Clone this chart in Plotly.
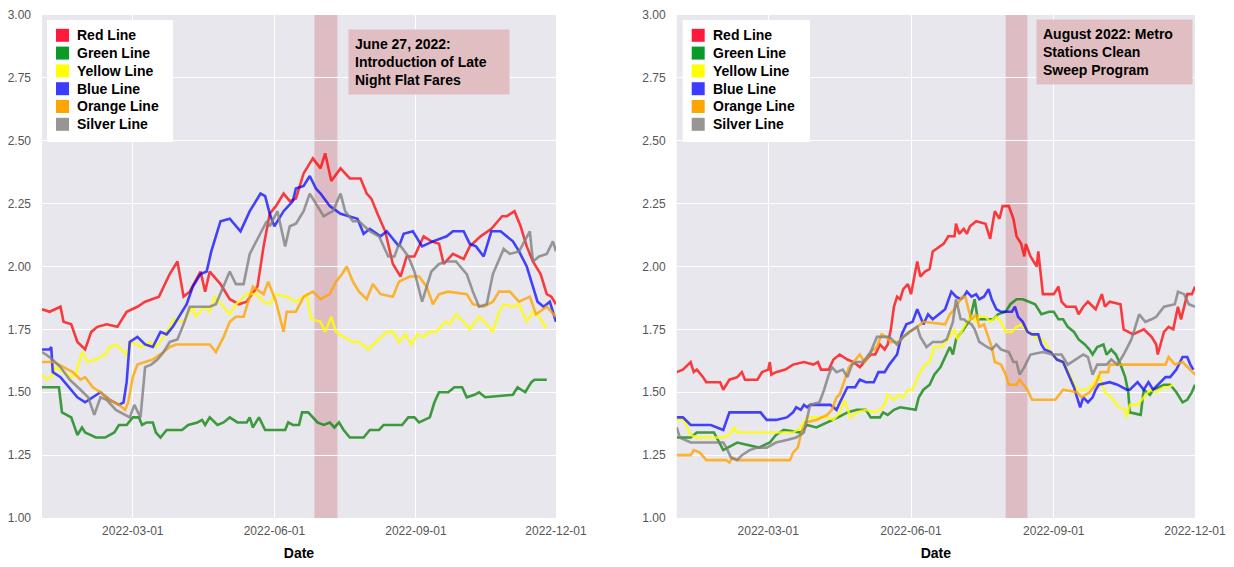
import pandas as pd
import plotly.graph_objects as go

BASE = pd.Timestamp("2022-01-01")

# ---------------- Left panel (day offset from 2022-01-01, value) ----------------
L_red_d = [0,5,12,14,19,23,28,32,36,42,49,55,62,67,76,83,88,92,96,103,106,109,116,122,128,133,140,144,148,152,157,161,165,170,172,176,181,184,188,194,200,207,211,214,218,223,228,233,237,242,248,253,258,261,267,274,278,285,292,299,302,307,311,315,319,324,328,331,334]
L_red_v = [1.83,1.82,1.84,1.78,1.77,1.70,1.67,1.74,1.76,1.77,1.76,1.82,1.84,1.86,1.88,1.97,2.02,1.88,1.90,1.98,1.90,1.98,1.93,1.87,1.85,1.86,1.92,2.08,2.21,2.24,2.29,2.26,2.27,2.37,2.39,2.43,2.39,2.45,2.34,2.39,2.35,2.35,2.29,2.27,2.21,2.14,2.01,1.96,2.04,2.04,2.12,2.10,2.09,2.01,2.05,2.03,2.08,2.12,2.15,2.20,2.20,2.22,2.16,2.08,2.02,1.97,1.89,1.88,1.85]

L_green_d = [0,11,13,19,23,26,28,35,41,47,50,55,59,63,65,68,72,74,77,81,91,95,101,104,106,109,114,118,122,127,133,135,137,141,145,158,160,163,167,169,173,176,179,183,187,190,193,196,200,209,213,219,222,234,238,242,245,252,255,258,264,268,273,276,281,284,288,306,309,314,318,320,328]
L_green_v = [1.52,1.52,1.42,1.40,1.33,1.36,1.34,1.32,1.32,1.34,1.37,1.37,1.40,1.40,1.37,1.38,1.38,1.34,1.32,1.35,1.35,1.37,1.38,1.39,1.37,1.40,1.37,1.38,1.40,1.38,1.38,1.40,1.36,1.40,1.35,1.35,1.38,1.37,1.37,1.42,1.42,1.40,1.38,1.37,1.38,1.36,1.38,1.35,1.32,1.32,1.35,1.35,1.37,1.37,1.40,1.40,1.38,1.40,1.46,1.50,1.50,1.52,1.52,1.48,1.49,1.50,1.48,1.49,1.52,1.50,1.54,1.55,1.55]

L_yellow_d = [0,3,6,9,14,19,22,26,30,35,41,44,48,53,55,58,64,68,70,74,79,83,86,92,98,100,105,109,112,118,122,126,133,139,144,148,152,159,165,172,175,181,184,188,191,196,202,206,212,217,224,228,232,236,240,244,248,252,256,262,265,269,274,278,284,289,293,297,300,306,310,315,319,323,327,328]
L_yellow_v = [1.57,1.55,1.56,1.60,1.58,1.56,1.57,1.66,1.62,1.63,1.65,1.68,1.69,1.66,1.65,1.70,1.68,1.69,1.70,1.68,1.72,1.76,1.79,1.78,1.84,1.80,1.84,1.82,1.88,1.84,1.81,1.85,1.89,1.89,1.86,1.85,1.89,1.88,1.86,1.89,1.79,1.78,1.74,1.80,1.74,1.72,1.70,1.70,1.67,1.70,1.74,1.74,1.70,1.73,1.69,1.73,1.72,1.74,1.74,1.78,1.77,1.81,1.78,1.75,1.80,1.77,1.74,1.82,1.85,1.84,1.85,1.78,1.82,1.80,1.76,1.77]

L_blue_d = [0,5,6,7,12,16,23,28,33,38,44,50,53,55,57,62,67,72,77,81,85,90,94,98,103,107,110,116,122,129,135,142,145,148,151,157,163,165,170,174,178,181,187,194,200,205,209,213,220,224,232,235,241,247,254,263,267,274,278,282,287,292,298,302,306,310,315,319,322,326,330,334]
L_blue_v = [1.67,1.67,1.68,1.58,1.56,1.53,1.48,1.46,1.48,1.50,1.47,1.45,1.46,1.54,1.70,1.72,1.69,1.68,1.74,1.73,1.76,1.81,1.85,1.92,1.97,1.98,2.06,2.18,2.19,2.14,2.22,2.29,2.28,2.21,2.16,2.22,2.26,2.31,2.32,2.36,2.31,2.29,2.24,2.21,2.20,2.19,2.13,2.15,2.12,2.14,2.08,2.13,2.14,2.08,2.10,2.12,2.14,2.14,2.09,2.08,2.04,2.14,2.14,2.12,2.10,2.06,2.00,1.92,1.86,1.84,1.86,1.78]

L_orange_d = [0,8,14,20,25,28,33,38,44,50,54,56,59,62,67,72,79,83,87,109,113,118,122,126,131,137,144,147,152,157,159,165,170,176,181,187,191,195,198,202,206,211,215,220,228,232,239,245,250,254,258,264,276,280,287,293,297,304,310,317,321,328,334]
L_orange_v = [1.62,1.62,1.60,1.58,1.55,1.56,1.52,1.50,1.47,1.45,1.43,1.46,1.56,1.61,1.62,1.63,1.66,1.68,1.69,1.69,1.66,1.72,1.78,1.80,1.80,1.92,1.89,1.94,1.86,1.74,1.82,1.82,1.88,1.90,1.87,1.89,1.94,1.97,2.00,1.94,1.90,1.87,1.93,1.89,1.88,1.94,1.96,1.96,1.92,1.85,1.89,1.90,1.89,1.85,1.84,1.86,1.90,1.90,1.86,1.88,1.81,1.84,1.80]

L_silver_d = [0,5,12,18,25,30,34,38,42,48,54,57,60,64,67,71,75,79,83,88,92,96,98,109,113,118,122,126,131,135,142,146,148,153,158,161,165,170,174,178,183,189,194,197,202,206,213,219,225,229,232,238,242,247,250,253,258,263,269,276,280,284,289,293,300,304,310,317,319,323,328,332,334]
L_silver_v = [1.66,1.64,1.60,1.55,1.51,1.48,1.41,1.48,1.47,1.43,1.41,1.40,1.45,1.40,1.60,1.61,1.63,1.66,1.70,1.71,1.77,1.84,1.84,1.84,1.85,1.92,1.98,1.93,1.93,2.05,2.13,2.18,2.16,2.22,2.08,2.16,2.17,2.22,2.29,2.25,2.20,2.22,2.29,2.22,2.18,2.18,2.14,2.12,2.04,2.04,2.09,2.04,1.98,1.86,1.92,1.98,2.01,2.02,2.02,1.97,1.90,1.84,1.85,1.97,2.07,2.05,2.06,2.14,2.02,2.04,2.05,2.10,2.06]

# ---------------- Right panel ----------------
R_red_d = [0,4,9,11,13,17,19,28,30,34,39,42,44,52,55,59,60,61,64,70,75,82,88,91,93,98,101,105,110,114,118,122,125,128,131,134,136,138,140,142,144,146,149,151,155,157,160,163,165,172,175,179,180,182,185,187,189,193,199,202,205,208,210,214,217,219,222,224,225,228,232,233,235,236,243,246,248,251,257,259,262,265,270,274,276,279,286,288,291,294,301,306,309,310,314,317,320,323,325,329,332,334]
R_red_v = [1.58,1.59,1.62,1.58,1.59,1.56,1.54,1.54,1.51,1.55,1.56,1.58,1.55,1.55,1.58,1.59,1.62,1.57,1.58,1.59,1.61,1.62,1.61,1.62,1.59,1.59,1.63,1.65,1.63,1.62,1.60,1.63,1.65,1.65,1.69,1.67,1.69,1.75,1.84,1.88,1.87,1.91,1.93,1.89,2.02,1.96,1.98,1.99,2.06,2.09,2.12,2.12,2.17,2.13,2.15,2.13,2.16,2.18,2.17,2.11,2.22,2.19,2.24,2.24,2.19,2.12,2.09,2.04,2.09,2.04,2.00,2.06,1.95,1.89,1.89,1.92,1.86,1.84,1.84,1.81,1.84,1.86,1.83,1.89,1.84,1.86,1.85,1.75,1.74,1.73,1.75,1.72,1.69,1.65,1.74,1.76,1.75,1.84,1.79,1.89,1.89,1.92]

R_green_d = [0,9,13,24,30,39,53,60,64,69,80,84,90,97,101,104,110,116,122,125,131,133,136,140,144,154,156,159,163,166,170,173,176,178,180,185,189,192,194,204,207,212,215,219,223,227,231,233,235,240,243,246,249,252,256,259,263,266,268,271,275,277,280,283,286,289,291,292,299,301,305,307,314,318,322,326,329,332,334]
R_green_v = [1.32,1.32,1.34,1.34,1.27,1.30,1.28,1.30,1.33,1.35,1.34,1.37,1.36,1.38,1.39,1.40,1.42,1.43,1.43,1.40,1.40,1.42,1.41,1.43,1.44,1.43,1.48,1.51,1.53,1.57,1.60,1.64,1.68,1.65,1.71,1.75,1.79,1.87,1.79,1.79,1.81,1.82,1.85,1.87,1.87,1.86,1.85,1.83,1.81,1.82,1.82,1.79,1.79,1.76,1.74,1.71,1.69,1.67,1.65,1.68,1.69,1.65,1.67,1.65,1.61,1.56,1.50,1.42,1.41,1.51,1.49,1.51,1.53,1.53,1.50,1.46,1.47,1.50,1.53]

R_yellow_d = [0,5,9,13,30,34,37,39,75,80,84,97,101,105,108,112,116,122,127,131,134,136,140,143,146,149,152,156,160,163,166,171,173,176,179,181,185,187,190,193,195,199,202,206,209,212,216,219,222,226,229,233,236,241,245,249,254,258,264,268,272,276,280,285,289,290,292,297,301,305,309,314,317,320]
R_yellow_v = [1.39,1.39,1.33,1.32,1.32,1.33,1.36,1.34,1.34,1.36,1.40,1.40,1.39,1.42,1.47,1.40,1.42,1.43,1.42,1.43,1.45,1.49,1.47,1.49,1.48,1.51,1.51,1.57,1.61,1.62,1.68,1.68,1.70,1.72,1.75,1.71,1.76,1.78,1.80,1.78,1.80,1.80,1.78,1.80,1.78,1.74,1.74,1.76,1.77,1.74,1.73,1.71,1.71,1.66,1.63,1.62,1.56,1.51,1.51,1.53,1.57,1.50,1.48,1.44,1.43,1.40,1.45,1.45,1.48,1.51,1.50,1.52,1.52,1.53]

R_blue_d = [0,4,9,22,30,34,54,58,64,71,75,77,80,82,84,86,99,103,106,110,115,118,122,127,130,134,137,142,145,148,152,155,157,159,162,165,169,173,177,180,183,185,187,190,193,195,198,201,203,206,209,216,218,220,223,226,229,233,235,237,241,245,249,252,256,258,260,262,265,268,270,272,279,284,290,292,297,301,304,307,312,315,318,322,326,329,331,333]
R_blue_v = [1.40,1.40,1.37,1.37,1.35,1.42,1.42,1.39,1.39,1.40,1.42,1.44,1.43,1.45,1.44,1.45,1.45,1.43,1.47,1.52,1.52,1.55,1.54,1.54,1.58,1.58,1.61,1.65,1.73,1.77,1.78,1.83,1.80,1.77,1.81,1.79,1.81,1.83,1.90,1.88,1.87,1.88,1.90,1.88,1.89,1.87,1.88,1.91,1.87,1.83,1.82,1.82,1.84,1.80,1.78,1.74,1.73,1.73,1.69,1.67,1.66,1.63,1.62,1.58,1.52,1.48,1.44,1.48,1.46,1.48,1.51,1.53,1.54,1.53,1.51,1.51,1.54,1.51,1.54,1.51,1.54,1.56,1.56,1.59,1.64,1.64,1.61,1.59]

R_orange_d = [0,9,11,15,19,32,34,36,40,73,75,78,80,83,90,97,100,103,105,108,111,114,118,121,125,129,132,135,138,143,146,150,155,159,173,176,179,184,186,188,190,193,195,198,201,203,205,209,212,214,219,221,226,229,244,249,258,261,266,270,273,278,279,315,317,321,326,329,334]
R_orange_v = [1.25,1.25,1.27,1.26,1.23,1.23,1.22,1.24,1.23,1.23,1.26,1.28,1.33,1.38,1.39,1.41,1.43,1.48,1.49,1.55,1.60,1.62,1.65,1.62,1.66,1.68,1.73,1.72,1.70,1.70,1.72,1.74,1.76,1.78,1.77,1.81,1.83,1.88,1.88,1.83,1.79,1.81,1.76,1.77,1.71,1.68,1.62,1.61,1.57,1.53,1.53,1.55,1.51,1.47,1.47,1.51,1.50,1.48,1.50,1.53,1.58,1.58,1.61,1.61,1.64,1.61,1.62,1.60,1.57]

R_silver_d = [0,2,9,30,32,35,39,42,47,52,58,64,71,77,82,84,86,92,95,98,100,103,107,110,113,116,120,125,129,137,142,146,150,155,157,161,165,171,174,178,180,183,185,187,190,192,195,200,203,206,209,214,217,219,221,224,228,236,242,248,252,257,262,265,268,271,277,280,284,288,293,298,302,306,309,314,321,323,327,330,334]
R_silver_v = [1.36,1.32,1.30,1.30,1.28,1.24,1.23,1.25,1.27,1.28,1.28,1.30,1.31,1.32,1.34,1.40,1.45,1.46,1.51,1.57,1.60,1.58,1.59,1.56,1.61,1.62,1.62,1.66,1.72,1.72,1.69,1.72,1.74,1.76,1.72,1.68,1.70,1.70,1.71,1.78,1.87,1.79,1.79,1.78,1.77,1.75,1.70,1.68,1.67,1.69,1.67,1.66,1.62,1.62,1.57,1.60,1.65,1.66,1.65,1.65,1.61,1.63,1.65,1.64,1.57,1.61,1.61,1.63,1.61,1.65,1.71,1.81,1.78,1.79,1.80,1.84,1.85,1.90,1.89,1.85,1.84]

LINE_NAMES = ["Red Line", "Green Line", "Yellow Line", "Blue Line", "Orange Line", "Silver Line"]
LINE_COLORS = ["rgba(255,0,0,0.75)", "rgba(0,128,0,0.75)", "rgba(255,255,0,0.8)",
               "rgba(0,0,255,0.72)", "rgba(255,165,0,0.8)", "rgba(128,128,128,0.8)"]
PATCH_COLORS = ["#FF1A3C", "#0A9A28", "#FFFF00", "#3C3CFF", "#FFA500", "#9A9595"]

left_series = [(L_red_d, L_red_v), (L_green_d, L_green_v), (L_yellow_d, L_yellow_v),
               (L_blue_d, L_blue_v), (L_orange_d, L_orange_v), (L_silver_d, L_silver_v)]
right_series = [(R_red_d, R_red_v), (R_green_d, R_green_v), (R_yellow_d, R_yellow_v),
                (R_blue_d, R_blue_v), (R_orange_d, R_orange_v), (R_silver_d, R_silver_v)]

EVENTS = [("2022-06-27", "2022-07-12", "June 27, 2022:<br>Introduction of Late<br>Night Flat Fares"),
          ("2022-08-01", "2022-08-15", "August 2022: Metro<br>Stations Clean<br>Sweep Program")]

TICK_DATES = ["2022-03-01", "2022-06-01", "2022-09-01", "2022-12-01"]
Y_TICKS = [1.00, 1.25, 1.50, 1.75, 2.00, 2.25, 2.50, 2.75, 3.00]

FONT = "Liberation Sans, Arial, sans-serif"

# The page body has an 8px margin, so the figure is drawn at (8, 8) in the screenshot.
OFF = 8
W, H = 1234 - OFF, 567 - OFF
PLOT_L, PLOT_T, PLOT_R, PLOT_B = 42, 15, 1195, 518      # screenshot pixels
L, T = PLOT_L - OFF, PLOT_T - OFF
R, B = W - (PLOT_R - OFF), H - (PLOT_B - OFF)
pw = W - L - R
ph = H - T - B


def px(xs):
    return (xs - OFF - L) / pw


def py(ys):
    return 1 - (ys - OFF - T) / ph


def to_dates(days):
    return BASE + pd.to_timedelta(days, unit="D")


fig = go.Figure()

for series, xa, ya in [(left_series, "x", "y"), (right_series, "x2", "y2")]:
    for (d, v), name, col in zip(series, LINE_NAMES, LINE_COLORS):
        fig.add_trace(go.Scatter(x=to_dates(d), y=v, mode="lines", name=name,
                                 line=dict(color=col, width=2.6),
                                 xaxis=xa, yaxis=ya, showlegend=False, hoverinfo="skip"))

axis_common = dict(showgrid=True, gridcolor="white", gridwidth=1.4, zeroline=False,
                   showline=False, ticks="", automargin=False, ticklabeloverflow="allow",
                   tickfont=dict(family=FONT, size=12, color="#555555"))

dom_left = [0, px(556)]
dom_right = [px(676.7), 1]

for key, dom, anchor in [("xaxis", dom_left, "y"), ("xaxis2", dom_right, "y2")]:
    fig.layout[key] = dict(domain=dom, anchor=anchor, type="date",
                           range=["2022-01-01", "2022-12-01"],
                           tickvals=TICK_DATES, ticktext=TICK_DATES,
                           ticklabelstandoff=4,
                           title=dict(text="Date", standoff=11,
                                      font=dict(family=FONT, size=14, color="black", weight="bold")),
                           **axis_common)
for key, anchor in [("yaxis", "x"), ("yaxis2", "x2")]:
    fig.layout[key] = dict(domain=[0, 1], anchor=anchor, range=[1, 3],
                           tickvals=Y_TICKS, ticktext=[f"{t:.2f}" for t in Y_TICKS],
                           ticklabelstandoff=10, **axis_common)

shapes = []
annotations = []
ann_pos = [(px(348), py(29), 148), (px(1036), py(19), 143)]
for (x0, x1, txt), xr, (ax, ay, aw) in zip(EVENTS, ["x", "x2"], ann_pos):
    shapes.append(dict(type="rect", xref=xr, yref=("y domain" if xr == "x" else "y2 domain"),
                       x0=x0, x1=x1, y0=0, y1=1, fillcolor="rgba(195,80,90,0.28)",
                       line=dict(width=0), layer="below"))
    annotations.append(dict(text=txt, xref="paper", yref="paper", x=ax, y=ay,
                            xanchor="left", yanchor="top", showarrow=False, align="left",
                            width=aw, borderpad=6, bgcolor="#E1BEC2",
                            font=dict(family=FONT, size=14, color="black", weight="bold")))

# Legends (white box, colour patches, bold labels) drawn in paper space
LEGEND_BOXES = [(47, 20, 173, 142), (682.7, 20, 810, 142)]
ROW_STEP = 17.8
for (bx0, by0, bx1, by1) in LEGEND_BOXES:
    shapes.append(dict(type="rect", xref="paper", yref="paper",
                       x0=px(bx0), x1=px(bx1), y0=py(by1), y1=py(by0),
                       fillcolor="white", line=dict(width=0), layer="above"))
    for i, (name, pc) in enumerate(zip(LINE_NAMES, PATCH_COLORS)):
        cy = by0 + 15.3 + i * ROW_STEP
        sx = bx0 + 9
        shapes.append(dict(type="rect", xref="paper", yref="paper",
                           x0=px(sx), x1=px(sx + 13), y0=py(cy + 6.5), y1=py(cy - 6.5),
                           fillcolor=pc, line=dict(width=0), layer="above"))
        annotations.append(dict(text=name, xref="paper", yref="paper",
                                x=px(bx0 + 29), y=py(cy), xanchor="left", yanchor="middle",
                                showarrow=False, borderpad=0,
                                font=dict(family=FONT, size=14, color="black", weight="bold")))

fig.update_layout(
    width=W, height=H,
    margin=dict(l=L, r=R, t=T, b=B),
    paper_bgcolor="white",
    plot_bgcolor="#E8E7EE",
    font=dict(family=FONT, size=12, color="#555555"),
    shapes=shapes,
    annotations=annotations,
    showlegend=False,
)

fig.write_html("out.html")
